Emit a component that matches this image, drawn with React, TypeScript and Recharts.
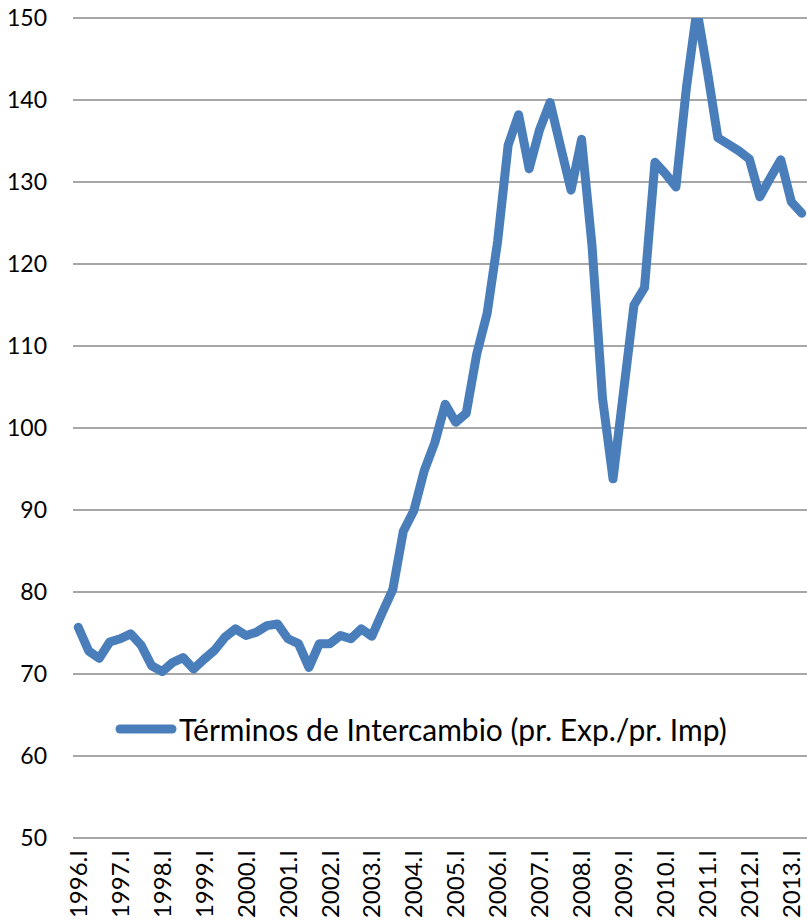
import { LineChart, Line, XAxis, YAxis, CartesianGrid, Legend } from "recharts";

const years = [1996, 1997, 1998, 1999, 2000, 2001, 2002, 2003, 2004, 2005, 2006, 2007, 2008, 2009, 2010, 2011, 2012, 2013];
const quarterNames = ["I", "II", "III", "IV"];

// términos de intercambio, trimestral 1996.I – 2013.II
const terms = [
  75.7, 72.8, 71.9, 73.9,
  74.3, 74.9, 73.5, 71.0,
  70.3, 71.4, 72.0, 70.6,
  71.8, 72.9, 74.5, 75.5,
  74.7, 75.1, 75.9, 76.1,
  74.3, 73.7, 70.8, 73.7,
  73.7, 74.7, 74.3, 75.5,
  74.6, 77.5, 80.3, 87.4,
  89.9, 94.8, 98.2, 102.9,
  100.7, 101.8, 109.0, 114.0,
  122.8, 134.5, 138.2, 131.6,
  136.4, 139.7, 134.3, 129.0,
  135.2, 122.2, 103.6, 93.8,
  104.4, 115.0, 117.1, 132.4,
  131.0, 129.4, 141.5, 151.0,
  143.5, 135.4, 134.6, 133.8,
  132.8, 128.2, 130.5, 132.7,
  127.6, 126.2,
];

const yTicks = [50, 60, 70, 80, 90, 100, 110, 120, 130, 140, 150];

const categories = years.flatMap((y) => quarterNames.map((q) => `${y}.${q}`)).slice(0, terms.length);

const data = terms.map((v, i) => ({ pos: i + 0.5, label: categories[i], value: v }));

const n = categories.length;
const boundaryTicks = Array.from({ length: n + 1 }, (_, i) => i);
const labelTicks = data.filter((d) => d.label.endsWith(".I")).map((d) => d.pos);

const FONT = "Lato, 'Open Sans', sans-serif";
const BLUE = "#4A7EBB";
const GRID = "#8a8a8a";

const YearTick = (props: any) => {
  const { x, y, payload } = props;
  const row = data.find((d) => d.pos === payload.value);
  return (
    <text
      x={x}
      y={y}
      transform={`rotate(-90, ${x}, ${y})`}
      textAnchor="end"
      dy="0.36em"
      fontSize={24}
      fontFamily={FONT}
      fill="#000"
    >
      {row ? row.label : ""}
    </text>
  );
};

const LegendBox = () => (
  <div style={{ display: "flex", alignItems: "center", fontFamily: FONT, fontSize: 30, color: "#000", whiteSpace: "nowrap" }}>
    <svg width={62} height={12} style={{ marginRight: 2 }}>
      <line x1={5} y1={6} x2={57} y2={6} stroke={BLUE} strokeWidth={9} strokeLinecap="round" />
    </svg>
    <span>Términos de Intercambio (pr. Exp./pr. Imp)</span>
  </div>
);

export default function App() {
  return (
    <div style={{ position: "absolute", left: 0, top: 0, background: "#fff", width: 807, height: 923 }}>
      <LineChart width={807} height={923} data={data} margin={{ top: 18, right: 0, bottom: 0, left: 0 }}>
        <CartesianGrid vertical={false} stroke={GRID} strokeWidth={1.5} xAxisId="q" />
        <XAxis
          xAxisId="q"
          type="number"
          dataKey="pos"
          domain={[0, n]}
          ticks={boundaryTicks}
          interval={0}
          height={0}
          tick={false}
          tickSize={7}
          tickLine={{ stroke: GRID, strokeWidth: 1.5 }}
          axisLine={{ stroke: GRID, strokeWidth: 1.5 }}
        />
        <XAxis
          xAxisId="lbl"
          type="number"
          dataKey="pos"
          domain={[0, n]}
          ticks={labelTicks}
          interval={0}
          height={85}
          axisLine={false}
          tickLine={false}
          tickSize={0}
          tickMargin={12}
          tick={<YearTick />}
        />
        <YAxis
          domain={[50, 150]}
          ticks={yTicks}
          allowDataOverflow
          width={73}
          axisLine={false}
          tickLine={false}
          tickSize={0}
          tickMargin={26}
          tick={{ fontSize: 23, fontFamily: FONT, fill: "#000" }}
        />
        <Legend
          layout="horizontal"
          verticalAlign="middle"
          align="center"
          content={<LegendBox />}
          wrapperStyle={{ left: 115, top: 711, width: "auto" }}
        />
        <Line
          xAxisId="q"
          type="linear"
          dataKey="value"
          stroke={BLUE}
          strokeWidth={9}
          strokeLinejoin="round"
          strokeLinecap="round"
          dot={false}
          activeDot={false}
          isAnimationActive={false}
        />
      </LineChart>
    </div>
  );
}
